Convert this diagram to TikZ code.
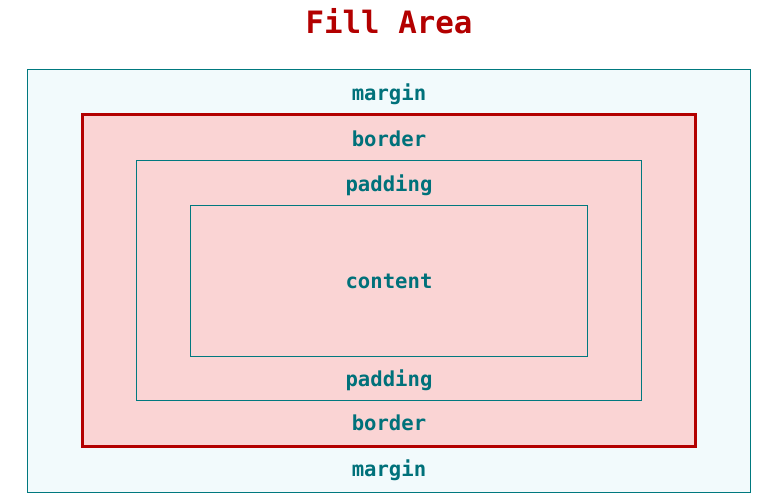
\documentclass[tikz,border=0pt]{standalone}
\usepackage{fontspec}
\setmonofont{DejaVu Sans Mono}
\definecolor{tealline}{HTML}{00797F}
\definecolor{tealtext}{HTML}{00717A}
\definecolor{redline}{HTML}{B30000}
\definecolor{pinkfill}{HTML}{FAD4D4}
\definecolor{marginfill}{HTML}{F2FAFC}
\begin{document}
\begin{tikzpicture}[x=1pt,y=-1pt,
  box/.style={rectangle,inner sep=0pt,outer sep=0pt},
  thinbox/.style={box,draw=tealline,line width=1pt},
  label/.style={text=tealtext,font=\ttfamily\bfseries\fontsize{20.6}{24}\selectfont,inner sep=0pt,anchor=center}]
\useasboundingbox (0,0) rectangle (780,500);
\node[thinbox,fill=marginfill,minimum width=723pt,minimum height=422pt] (margin) at (388.5,281) {};
\node[box,draw=redline,line width=3pt,fill=pinkfill,minimum width=613pt,minimum height=331pt] (border) at (388.5,280.5) {};
\node[thinbox,minimum width=505pt,minimum height=239pt] (padding) at (388.5,280.5) {};
\node[thinbox,minimum width=397pt,minimum height=150pt] (content) at (388.5,281) {};
\node[text=redline,font=\ttfamily\bfseries\fontsize{30.8}{36}\selectfont,inner sep=0pt] (title) at (389,21) {Fill Area};
\node[label] (mt) at (389,94) {margin};
\node[label] (bt) at (389,139) {border};
\node[label] (pt) at (389,185) {padding};
\node[label] (ct) at (389,281) {content};
\node[label] (pb) at (389,380) {padding};
\node[label] (bb) at (389,423) {border};
\node[label] (mb) at (389,470) {margin};
\end{tikzpicture}
\end{document}
